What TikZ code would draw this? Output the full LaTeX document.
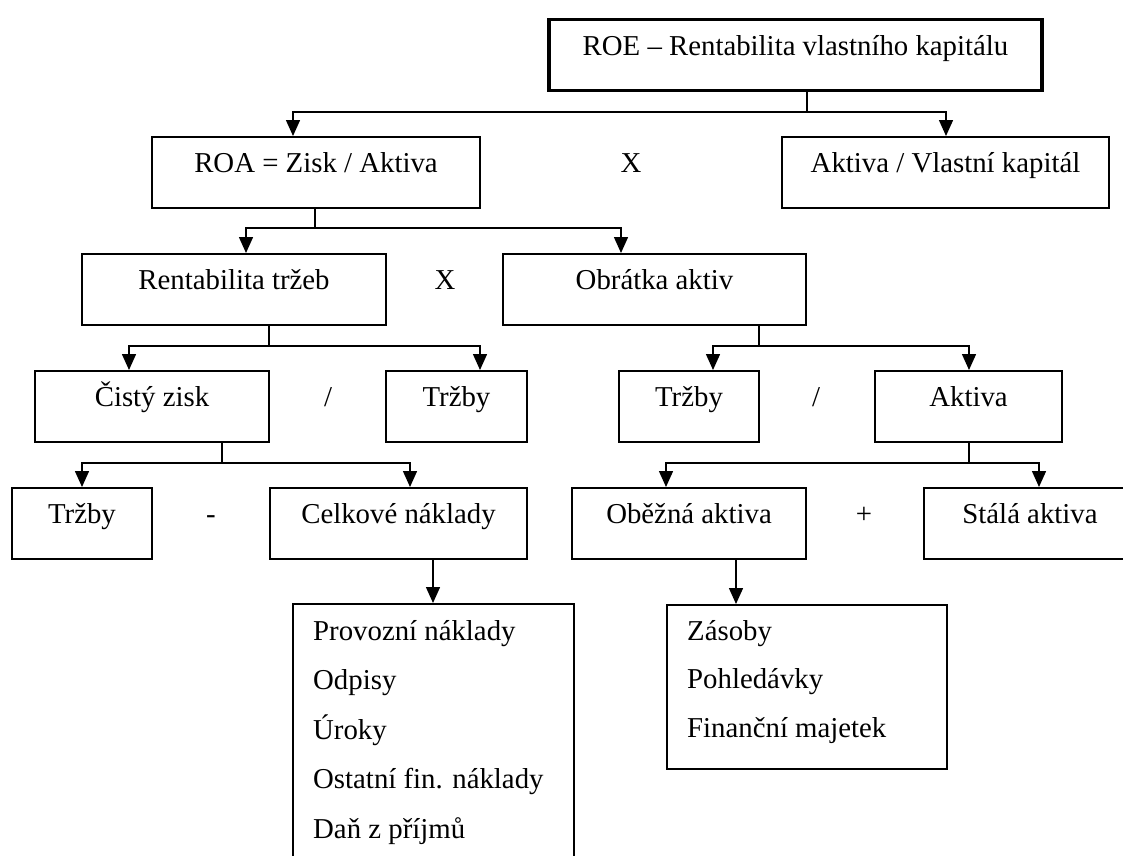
\documentclass[tikz,border=0pt]{standalone}
\usepackage{fontspec}
\setmainfont{Liberation Serif}
\usetikzlibrary{arrows.meta}
\begin{document}
\begin{tikzpicture}[x=1pt,y=-1pt,
  every node/.style={font=\fontsize{28.8}{49.5}\selectfont},
  box/.style={draw, line width=1.5pt, inner xsep=0pt, inner ysep=0pt,
    text height=36pt, text depth=35pt, anchor=north, minimum width=#1pt},
  listbox/.style={draw, line width=1.5pt, inner sep=0pt, anchor=north west},
  op/.style={anchor=base, inner sep=0pt},
  item/.style={anchor=base west, inner sep=0pt},
  ln/.style={line width=1.5pt},
  arr/.style={line width=1.5pt, -{Triangle[width=14pt,length=16pt]}}]
\path[fill=white, use as bounding box] (0,0) rectangle (1123,855);

% row 0
\node[box=493, line width=3.2pt] (roe) at (795.5,18) {ROE – Rentabilita vlastního kapitálu};
% row 1
\node[box=328] (roa) at (316,136) {ROA = Zisk / Aktiva};
\node[op] (x1) at (631,172) {X};
\node[box=327] (avk) at (945.5,136) {Aktiva / Vlastní kapitál};
% row 2
\node[box=304] (rt) at (234,253) {Rentabilita tržeb};
\node[op] (x2) at (445,289) {X};
\node[box=303] (oa) at (654.5,253) {Obrátka aktiv};
% row 3
\node[box=234] (cz) at (152,370) {Čistý zisk};
\node[op] (d1) at (328,406) {/};
\node[box=141] (t1) at (456.5,370) {Tržby};
\node[box=140] (t2) at (689,370) {Tržby};
\node[op] (d2) at (816,406) {/};
\node[box=187] (ak) at (968.5,370) {Aktiva};
% row 4
\node[box=140] (t3) at (82,487) {Tržby};
\node[op] (m1) at (211,523) {-};
\node[box=257] (cn) at (398.5,487) {Celkové náklady};
\node[box=234] (ob) at (689,487) {Oběžná aktiva};
\node[op] (pl) at (864,523) {+};
\node[box=212] (sa) at (1030,487) {Stálá aktiva};
% row 5
\node[listbox, minimum width=281pt, minimum height=290pt] (prov) at (292,603) {};
\node[item] (pv1) at (313,640) {Provozní náklady};
\node[item] (pv2) at (313,689.5) {Odpisy};
\node[item] (pv3) at (313,739) {Úroky};
\node[item] (pv4) at (313,788.5) {Ostatní fin. náklady};
\node[item] (pv5) at (313,838) {Daň z příjmů};
\node[listbox, minimum width=280pt, minimum height=164pt] (zas) at (666,604) {};
\node[item] (zs1) at (687,640) {Zásoby};
\node[item] (zs2) at (687,688.5) {Pohledávky};
\node[item] (zs3) at (687,737) {Finanční majetek};

% connectors
\coordinate (j1) at (807,112); \coordinate (a1) at (293,112); \coordinate (a2) at (946,112);
\draw[ln] (roe.south -| j1) -- (j1);
\draw[arr] (j1) -- (a1) -- (a1 |- roa.north);
\draw[arr] (j1) -- (a2) -- (a2 |- avk.north);

\coordinate (j2) at (315,228); \coordinate (b1) at (246,228); \coordinate (b2) at (621,228);
\draw[ln] (roa.south -| j2) -- (j2);
\draw[arr] (j2) -- (b1) -- (b1 |- rt.north);
\draw[arr] (j2) -- (b2) -- (b2 |- oa.north);

\coordinate (j3) at (269,346); \coordinate (c1) at (129,346); \coordinate (c2) at (480,346);
\draw[ln] (rt.south -| j3) -- (j3);
\draw[arr] (j3) -- (c1) -- (c1 |- cz.north);
\draw[arr] (j3) -- (c2) -- (c2 |- t1.north);

\coordinate (j4) at (759,346); \coordinate (c3) at (713,346); \coordinate (c4) at (969,346);
\draw[ln] (oa.south -| j4) -- (j4);
\draw[arr] (j4) -- (c3) -- (c3 |- t2.north);
\draw[arr] (j4) -- (c4) -- (c4 |- ak.north);

\coordinate (j5) at (222,463); \coordinate (e1) at (82,463); \coordinate (e2) at (410,463);
\draw[ln] (cz.south -| j5) -- (j5);
\draw[arr] (j5) -- (e1) -- (e1 |- t3.north);
\draw[arr] (j5) -- (e2) -- (e2 |- cn.north);

\coordinate (j6) at (969,463); \coordinate (e3) at (666,463); \coordinate (e4) at (1039,463);
\draw[ln] (ak.south -| j6) -- (j6);
\draw[arr] (j6) -- (e3) -- (e3 |- ob.north);
\draw[arr] (j6) -- (e4) -- (e4 |- sa.north);

\coordinate (f1) at (433,580); \coordinate (f2) at (736,580);
\draw[arr] (f1 |- cn.south) -- (f1 |- prov.north);
\draw[arr] (f2 |- ob.south) -- (f2 |- zas.north);
\end{tikzpicture}
\end{document}
